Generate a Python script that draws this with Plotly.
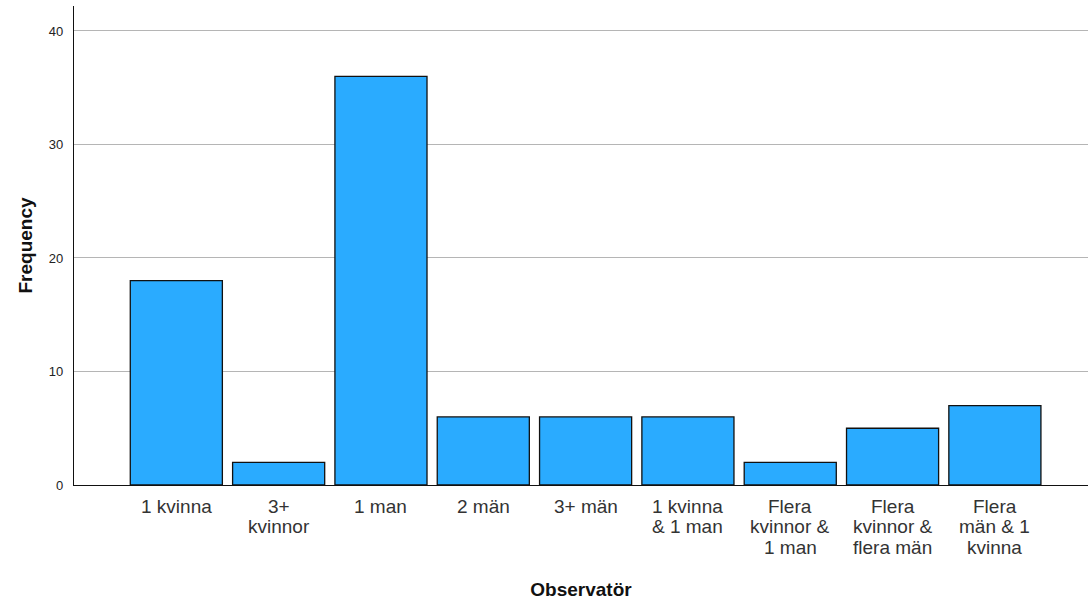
import plotly.graph_objects as go

categories = ["1 kvinna", "3+<br>kvinnor", "1 man", "2 män", "3+ män",
              "1 kvinna<br>& 1 man", "Flera<br>kvinnor &<br>1 man",
              "Flera<br>kvinnor &<br>flera män", "Flera<br>män & 1<br>kvinna"]
frequency = [18, 2, 36, 6, 6, 6, 2, 5, 7]
y_ticks = [0, 10, 20, 30, 40]

xpos = list(range(len(categories)))

fig = go.Figure(go.Bar(
    x=xpos, y=frequency,
    marker=dict(color="#2aabff", line=dict(color="#111111", width=1.3)),
    width=0.9,
))

# category labels drawn as per-line annotations (tight SPSS-style line spacing)
annotations = []
for i, lab in enumerate(categories):
    for j, line in enumerate(lab.split("<br>")):
        annotations.append(dict(
            x=xpos[i], xref="x", y=0, yref="paper",
            text=line, showarrow=False, xanchor="center", yanchor="middle",
            yshift=-(21 + j * 20.7),
            font=dict(size=19, color="#333333", family="Liberation Sans, Arial"),
        ))

fig.update_layout(
    width=1088, height=603,
    margin=dict(l=74, r=0, t=6, b=118),
    plot_bgcolor="white", paper_bgcolor="white",
    font=dict(family="Liberation Sans, Arial", color="#222222"),
    showlegend=False,
    annotations=annotations,
    xaxis=dict(
        range=[-1.0, 8.91],
        tickmode="array", tickvals=xpos, showticklabels=False,
        showgrid=False, zeroline=False,
        showline=True, linecolor="#111111", linewidth=1.3,
        ticks="",
        title=dict(text="<b>Observatör</b>", font=dict(size=19, color="#111111"), standoff=97),
    ),
    yaxis=dict(
        range=[0, 42.2],
        tickmode="array", tickvals=y_ticks,
        tickfont=dict(size=13, color="#222222"),
        showgrid=True, gridcolor="#b5b5b5", gridwidth=1,
        zeroline=False,
        showline=True, linecolor="#111111", linewidth=1.3,
        ticks="", ticklabelstandoff=7,
        title=dict(text="<b>Frequency</b>", font=dict(size=19, color="#111111"), standoff=11),
    ),
)

fig.write_html("out.html", config={"displayModeBar": False},
               post_script="document.body.style.margin='0px';")
